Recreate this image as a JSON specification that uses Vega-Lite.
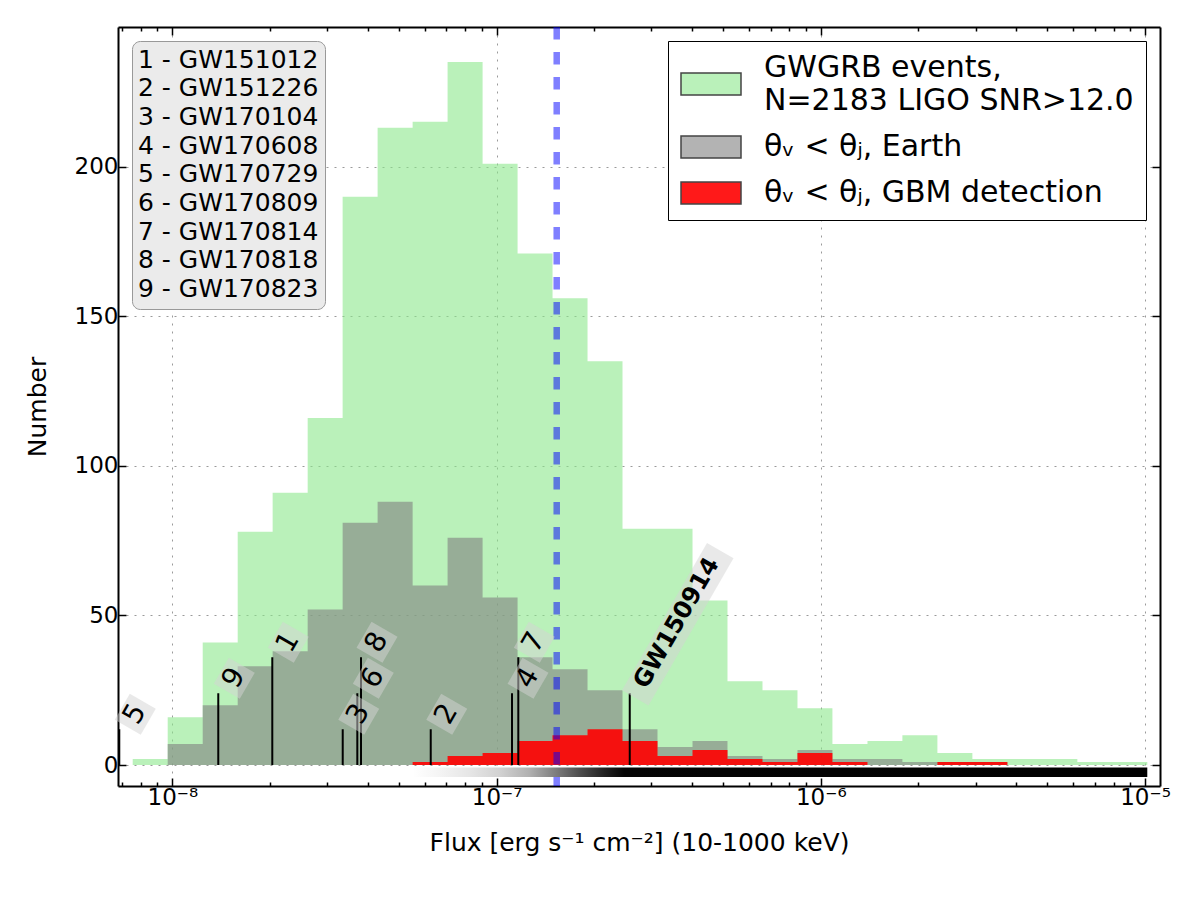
{
  "$schema": "https://vega.github.io/schema/vega-lite/v6.json",
  "width": 1042,
  "height": 759,
  "autosize": {"type": "none"},
  "padding": {"left": 118, "top": 27, "right": 40, "bottom": 114},
  "background": "white",
  "config": {
    "font": "DejaVu Sans",
    "view": {"stroke": null},
    "axis": {
      "domainColor": "black",
      "domainWidth": 2,
      "tickColor": "black",
      "tickWidth": 1.5,
      "labelColor": "black",
      "titleColor": "black",
      "labelFont": "DejaVu Sans",
      "titleFont": "DejaVu Sans",
      "labelFontSize": 23,
      "titleFontSize": 25,
      "titleFontWeight": "normal",
      "gridColor": "#9a9a9a",
      "gridDash": [2, 6],
      "gridWidth": 1,
      "labelFlush": false,
      "labelOverlap": false,
      "zindex": 1
    }
  },
  "datasets": {
    "bins": [
      {"edge": 7.549e-9, "all": 2, "earth": 0, "gbm": 0},
      {"edge": 9.678e-9, "all": 16, "earth": 7, "gbm": 0},
      {"edge": 1.241e-8, "all": 41, "earth": 20, "gbm": 0},
      {"edge": 1.591e-8, "all": 78, "earth": 33, "gbm": 0},
      {"edge": 2.039e-8, "all": 91, "earth": 38, "gbm": 0},
      {"edge": 2.615e-8, "all": 116, "earth": 52, "gbm": 0},
      {"edge": 3.352e-8, "all": 190, "earth": 81, "gbm": 0},
      {"edge": 4.297e-8, "all": 213, "earth": 88, "gbm": 0},
      {"edge": 5.510e-8, "all": 215, "earth": 60, "gbm": 1},
      {"edge": 7.063e-8, "all": 235, "earth": 76, "gbm": 3},
      {"edge": 9.056e-8, "all": 201, "earth": 56, "gbm": 4},
      {"edge": 1.161e-7, "all": 171, "earth": 36, "gbm": 8},
      {"edge": 1.488e-7, "all": 156, "earth": 32, "gbm": 10},
      {"edge": 1.908e-7, "all": 135, "earth": 25, "gbm": 12},
      {"edge": 2.446e-7, "all": 79, "earth": 12, "gbm": 8},
      {"edge": 3.136e-7, "all": 79, "earth": 6, "gbm": 3},
      {"edge": 4.021e-7, "all": 55, "earth": 8, "gbm": 5},
      {"edge": 5.155e-7, "all": 28, "earth": 3, "gbm": 2},
      {"edge": 6.609e-7, "all": 25, "earth": 2, "gbm": 1},
      {"edge": 8.473e-7, "all": 19, "earth": 5, "gbm": 4},
      {"edge": 1.086e-6, "all": 7, "earth": 2, "gbm": 1},
      {"edge": 1.393e-6, "all": 8, "earth": 2, "gbm": 0},
      {"edge": 1.785e-6, "all": 10, "earth": 1, "gbm": 0},
      {"edge": 2.289e-6, "all": 4, "earth": 1, "gbm": 1},
      {"edge": 2.934e-6, "all": 2, "earth": 1, "gbm": 1},
      {"edge": 3.762e-6, "all": 2, "earth": 0, "gbm": 0},
      {"edge": 4.823e-6, "all": 2, "earth": 0, "gbm": 0},
      {"edge": 6.183e-6, "all": 1, "earth": 0, "gbm": 0},
      {"edge": 7.927e-6, "all": 1, "earth": 0, "gbm": 0},
      {"edge": 1.016e-5, "all": 1, "earth": 0, "gbm": 0}
    ],
    "gbmband": [
      {"lo": 5.510e-8, "hi": 1.016e-5, "top": -0.8, "bottom": -4.0}
    ],
    "threshold": [
      {"flux": 1.533e-7}
    ],
    "events": [
      {"num": "1", "name": "GW151012", "flux": 2.034e-8, "level": 36},
      {"num": "2", "name": "GW151226", "flux": 6.266e-8, "level": 12},
      {"num": "3", "name": "GW170104", "flux": 3.354e-8, "level": 12},
      {"num": "4", "name": "GW170608", "flux": 1.116e-7, "level": 24},
      {"num": "5", "name": "GW170729", "flux": 6.862e-9, "level": 12},
      {"num": "6", "name": "GW170809", "flux": 3.720e-8, "level": 24},
      {"num": "7", "name": "GW170814", "flux": 1.167e-7, "level": 36},
      {"num": "8", "name": "GW170818", "flux": 3.819e-8, "level": 36},
      {"num": "9", "name": "GW170823", "flux": 1.386e-8, "level": 24}
    ],
    "gw150914": [
      {"name": "GW150914", "flux": 2.575e-7, "level": 24}
    ]
  },
  "layer": [
    {
      "data": {"name": "bins"},
      "transform": [{"fold": ["all", "earth", "gbm"], "as": ["series", "count"]}],
      "mark": {"type": "area", "interpolate": "step-after"},
      "encoding": {
        "x": {
          "field": "edge",
          "type": "quantitative",
          "scale": {"type": "log", "domain": [6.8e-9, 1.112e-5], "nice": false},
          "axis": {
            "orient": "bottom",
            "values": [7e-9, 8e-9, 9e-9, 1e-8, 2e-8, 3e-8, 4e-8, 5e-8, 6e-8, 7e-8, 8e-8, 9e-8, 1e-7, 2e-7, 3e-7, 4e-7, 5e-7, 6e-7, 7e-7, 8e-7, 9e-7, 1e-6, 2e-6, 3e-6, 4e-6, 5e-6, 6e-6, 7e-6, 8e-6, 9e-6, 1e-5],
            "labelExpr": "abs(log(datum.value)/LN10 - round(log(datum.value)/LN10)) > 0.001 ? '' : '10' + (round(log(datum.value)/LN10) == -8 ? '⁻⁸' : round(log(datum.value)/LN10) == -7 ? '⁻⁷' : round(log(datum.value)/LN10) == -6 ? '⁻⁶' : '⁻⁵')",
            "grid": true,
            "gridOpacity": {"condition": {"test": "abs(log(datum.value)/LN10 - round(log(datum.value)/LN10)) < 0.001", "value": 1}, "value": 0},
            "tickSize": {"condition": {"test": "abs(log(datum.value)/LN10 - round(log(datum.value)/LN10)) < 0.001", "value": -8}, "value": -4},
            "labelPadding": 8,
            "title": "Flux [erg s⁻¹ cm⁻²] (10-1000 keV)",
            "titlePadding": 17
          }
        },
        "y": {
          "field": "count",
          "type": "quantitative",
          "stack": null,
          "scale": {"domain": [-7, 246.7], "nice": false, "zero": false},
          "axis": {
            "orient": "left",
            "values": [0, 50, 100, 150, 200],
            "tickSize": -8,
            "grid": true,
            "labelPadding": 8,
            "title": "Number",
            "titlePadding": 24
          }
        },
        "y2": {"datum": 0},
        "color": {
          "field": "series",
          "type": "nominal",
          "scale": {
            "domain": ["all", "earth", "gbm"],
            "range": ["rgba(140,232,140,0.6)", "rgba(128,128,128,0.6)", "rgba(255,0,0,0.9)"]
          },
          "legend": {
            "orient": "top-right",
            "offset": 14,
            "title": null,
            "fillColor": "white",
            "strokeColor": "black",
            "padding": 12,
            "symbolType": "M-1,-0.37L1,-0.37L1,0.37L-1,0.37Z",
            "symbolSize": 3600,
            "symbolStrokeColor": "#444444",
            "symbolStrokeWidth": 1.5,
            "labelFontSize": 30,
            "labelOffset": 22,
            "labelLimit": 700,
            "rowPadding": 0,
            "labelExpr": "datum.value == 'all' ? ['GWGRB events,', 'N=2183 LIGO SNR>12.0'] : datum.value == 'earth' ? 'θᵥ < θⱼ, Earth' : 'θᵥ < θⱼ, GBM detection'",
            "encode": {
              "labels": {
                "update": {
                  "dy": {"signal": "datum.value == 'all' ? -16.5 : 0"},
                  "lineHeight": {"value": 33}
                }
              }
            }
          }
        }
      }
    },
    {
      "data": {"name": "gbmband"},
      "mark": {
        "type": "rect",
        "color": {
          "gradient": "linear",
          "x1": 0, "y1": 0, "x2": 1, "y2": 0,
          "stops": [
            {"offset": 0, "color": "#ffffff"},
            {"offset": 0.037, "color": "#f4f4f4"},
            {"offset": 0.077, "color": "#e6e6e6"},
            {"offset": 0.118, "color": "#d2d2d2"},
            {"offset": 0.159, "color": "#b0b0b0"},
            {"offset": 0.193, "color": "#808080"},
            {"offset": 0.227, "color": "#4e4e4e"},
            {"offset": 0.261, "color": "#222222"},
            {"offset": 0.288, "color": "#050505"},
            {"offset": 1, "color": "#000000"}
          ]
        }
      },
      "encoding": {
        "x": {"field": "lo", "type": "quantitative", "axis": null},
        "x2": {"field": "hi"},
        "y": {
          "field": "top",
          "type": "quantitative",
          "axis": {
            "orient": "right",
            "values": [0, 50, 100, 150, 200],
            "tickSize": -8,
            "labels": false,
            "grid": false,
            "title": null
          }
        },
        "y2": {"field": "bottom"}
      }
    },
    {
      "data": {"name": "threshold"},
      "mark": {"type": "rule", "color": "blue", "opacity": 0.5, "strokeWidth": 6.5, "strokeDash": [12.5, 12.5]},
      "encoding": {
        "x": {
          "field": "flux",
          "type": "quantitative",
          "axis": {
            "orient": "top",
            "values": [7e-9, 8e-9, 9e-9, 1e-8, 2e-8, 3e-8, 4e-8, 5e-8, 6e-8, 7e-8, 8e-8, 9e-8, 1e-7, 2e-7, 3e-7, 4e-7, 5e-7, 6e-7, 7e-7, 8e-7, 9e-7, 1e-6, 2e-6, 3e-6, 4e-6, 5e-6, 6e-6, 7e-6, 8e-6, 9e-6, 1e-5],
            "labels": false,
            "grid": false,
            "title": null,
            "tickSize": {"condition": {"test": "abs(log(datum.value)/LN10 - round(log(datum.value)/LN10)) < 0.001", "value": -8}, "value": -4}
          }
        }
      }
    },
    {
      "data": {"name": "events"},
      "transform": [{"calculate": "datum.num + ' - ' + datum.name", "as": "entry"}],
      "mark": {"type": "rule", "color": "black", "strokeWidth": 2},
      "encoding": {
        "x": {"field": "flux", "type": "quantitative", "axis": null},
        "y": {"field": "level", "type": "quantitative", "axis": null},
        "y2": {"datum": 0},
        "strokeDash": {
          "field": "entry",
          "type": "nominal",
          "scale": {"range": [[1, 0]]},
          "legend": {
            "orient": "top-left",
            "offset": 14,
            "title": null,
            "fillColor": "#ebebeb",
            "strokeColor": "#999999",
            "cornerRadius": 8,
            "padding": 6,
            "symbolSize": 0,
            "symbolOpacity": 0,
            "symbolStrokeWidth": 0,
            "labelOffset": -25,
            "labelFontSize": 25,
            "labelLimit": 400,
            "rowPadding": 2.7
          }
        }
      }
    },
    {
      "data": {"name": "gw150914"},
      "mark": {"type": "rule", "color": "black", "strokeWidth": 2},
      "encoding": {
        "x": {"field": "flux", "type": "quantitative", "axis": null},
        "y": {"field": "level", "type": "quantitative", "axis": null},
        "y2": {"datum": 0}
      }
    },
    {
      "data": {"name": "events"},
      "mark": {"type": "point", "filled": true, "shape": "square", "size": 900, "angle": 300, "color": "#d3d3d3", "opacity": 0.5, "strokeWidth": 0, "xOffset": 16, "yOffset": -15},
      "encoding": {
        "x": {"field": "flux", "type": "quantitative", "axis": null},
        "y": {"field": "level", "type": "quantitative", "axis": null}
      }
    },
    {
      "data": {"name": "events"},
      "mark": {"type": "text", "angle": 300, "align": "left", "baseline": "middle", "fontSize": 28, "color": "black", "xOffset": 11.5, "yOffset": -7.2},
      "encoding": {
        "x": {"field": "flux", "type": "quantitative", "axis": null},
        "y": {"field": "level", "type": "quantitative", "axis": null},
        "text": {"field": "num"}
      }
    },
    {
      "data": {"name": "gw150914"},
      "mark": {"type": "point", "filled": true, "shape": "M-1,-0.18L1,-0.18L1,0.18L-1,0.18Z", "size": 28900, "angle": 300, "color": "#d3d3d3", "opacity": 0.5, "strokeWidth": 0, "xOffset": 48, "yOffset": -69},
      "encoding": {
        "x": {"field": "flux", "type": "quantitative", "axis": null},
        "y": {"field": "level", "type": "quantitative", "axis": null}
      }
    },
    {
      "data": {"name": "gw150914"},
      "mark": {"type": "text", "angle": 300, "align": "left", "baseline": "middle", "fontSize": 24, "fontWeight": "bold", "color": "black", "xOffset": 10.5, "yOffset": -6.8},
      "encoding": {
        "x": {"field": "flux", "type": "quantitative", "axis": null},
        "y": {"field": "level", "type": "quantitative", "axis": null},
        "text": {"field": "name"}
      }
    }
  ]
}
